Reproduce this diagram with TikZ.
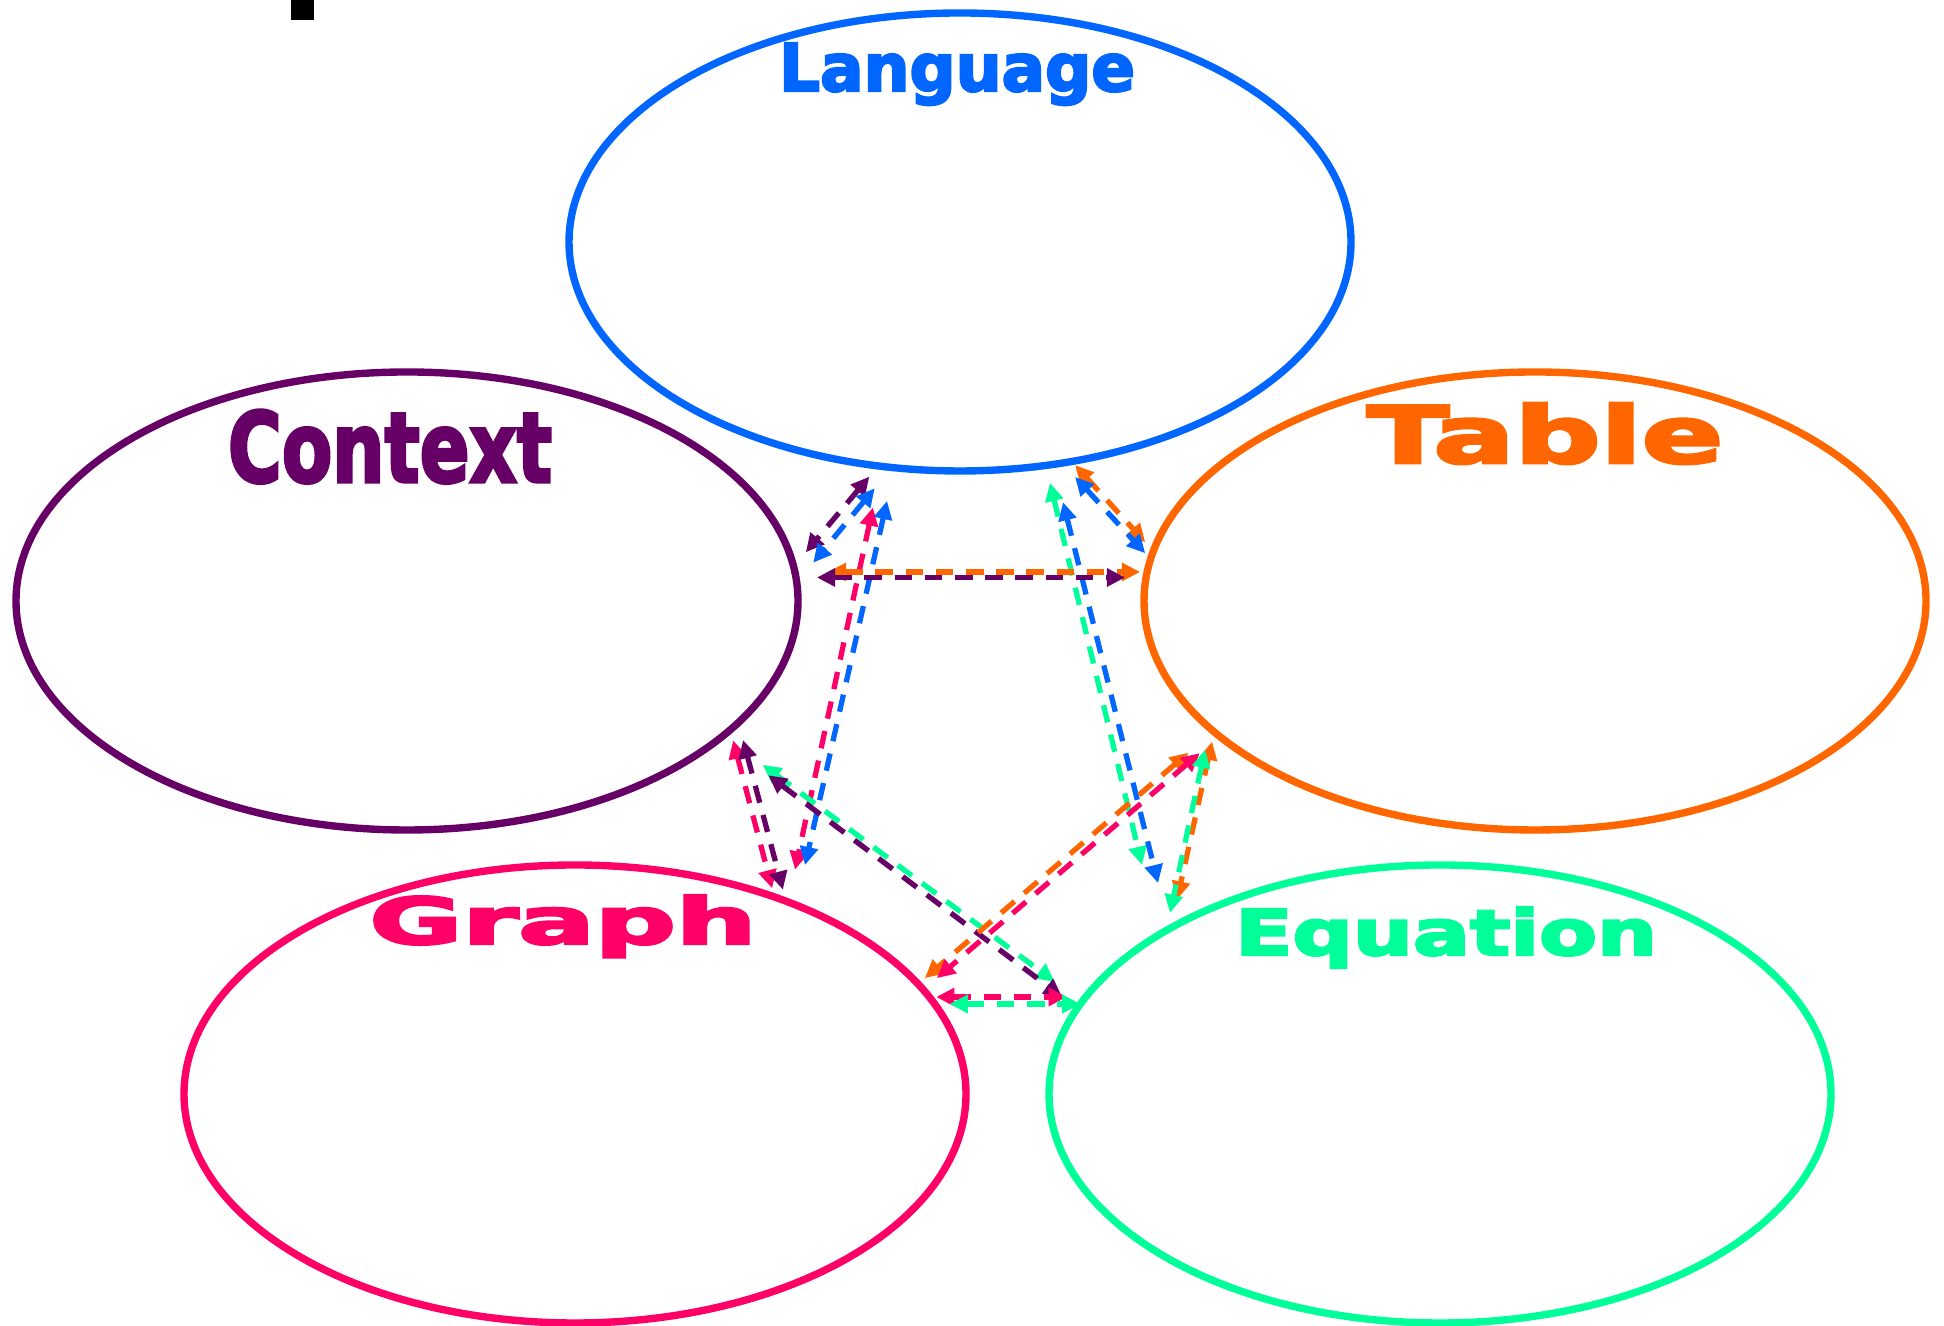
\documentclass[tikz,border=0pt]{standalone}
\usepackage{fontspec}
\usepackage{graphicx}
\newfontfamily\blobfont{DejaVu Sans}[BoldFeatures={FakeBold=3.5}]
\usetikzlibrary{arrows.meta, positioning, shapes.geometric}

\definecolor{langblue}{HTML}{0066FF}
\definecolor{ctxpurple}{HTML}{660066}
\definecolor{taborange}{HTML}{FF6600}
\definecolor{graphpink}{HTML}{FF0066}
\definecolor{eqngreen}{HTML}{00FF99}

% heavy title squeezed into a given width and height
\newcommand{\blobtitle}[3]{\resizebox{#1}{#2}{\blobfont\bfseries #3}}

\begin{document}
\begin{tikzpicture}[
  blob/.style={draw, ellipse, line width=2.1pt, inner sep=0pt, outer sep=0pt,
               minimum width=7.82cm, minimum height=4.58cm},
  heading/.style={inner sep=0pt, outer sep=0pt},
  link/.style={line width=1.5pt, dash pattern=on 5pt off 3.6pt,
               {Triangle[length=5.2pt,width=5pt]}-{Triangle[length=5.2pt,width=5pt]}}
]

\useasboundingbox (0,0) rectangle (19.44,13.26);

\fill (2.91,13.06) rectangle (3.14,13.26);

\node [blob, draw=langblue ] (lang)  at ( 9.60,10.84) {};
\node [blob, draw=ctxpurple] (ctx)   at ( 4.07, 7.25) {};
\node [blob, draw=taborange] (table) at (15.35, 7.25) {};
\node [blob, draw=graphpink] (graph) at ( 5.75, 2.32) {};
\node [blob, draw=eqngreen ] (eqn)   at (14.40, 2.32) {};

\node [heading, text=langblue , below=0.30cm of lang.north , xshift=-0.03cm] (langtxt)  {\blobtitle{3.56cm}{0.48cm}{Language}};
\node [heading, text=ctxpurple, below=0.38cm of ctx.north  , xshift=-0.17cm] (ctxtxt)   {\blobtitle{3.24cm}{0.72cm}{Context}};
\node [heading, text=taborange, below=0.31cm of table.north, xshift= 0.10cm] (tabletxt) {\blobtitle{3.56cm}{0.60cm}{Table}};
\node [heading, text=graphpink, below=0.30cm of graph.north, xshift=-0.12cm] (graphtxt) {\blobtitle{3.87cm}{0.49cm}{Graph}};
\node [heading, text=eqngreen , below=0.42cm of eqn.north  , xshift= 0.06cm] (eqntxt)   {\blobtitle{4.22cm}{0.48cm}{Equation}};

% language
\draw [link, ctxpurple, shorten <=0.14cm, shorten >=0.19cm] ([shift={(-0.817,-2.240)}]lang.center) -- ([shift={( 3.866, 0.342)}]ctx.center);
\draw [link, langblue , shorten <=0.27cm, shorten >=0.26cm] ([shift={(-0.681,-2.255)}]lang.center) -- ([shift={( 3.897, 0.183)}]ctx.center);
\draw [link, graphpink, shorten <=0.42cm, shorten >=0.33cm] ([shift={(-0.783,-2.244)}]lang.center) -- ([shift={( 2.131, 1.920)}]graph.center);
\draw [link, langblue , shorten <=0.34cm, shorten >=0.41cm] ([shift={(-0.655,-2.258)}]lang.center) -- ([shift={( 2.210, 1.889)}]graph.center);
\draw [link, taborange, shorten <=0.05cm, shorten >=0.12cm] ([shift={( 1.118,-2.195)}]lang.center) -- ([shift={(-3.817, 0.498)}]table.center);
\draw [link, langblue , shorten <=0.19cm, shorten >=0.08cm] ([shift={( 1.022,-2.210)}]lang.center) -- ([shift={(-3.844, 0.419)}]table.center);
\draw [link, eqngreen , shorten <=0.18cm, shorten >=0.72cm] ([shift={( 0.858,-2.234)}]lang.center) -- ([shift={(-2.812, 1.591)}]eqn.center);
\draw [link, langblue , shorten <=0.39cm, shorten >=0.47cm] ([shift={( 0.936,-2.223)}]lang.center) -- ([shift={(-2.706, 1.653)}]eqn.center);

% context
\draw [link, taborange, shorten <=0.33cm, shorten >=0.07cm] ([shift={( 3.879, 0.290)}]ctx.center) -- ([shift={(-3.879, 0.290)}]table.center);
\draw [link, ctxpurple, shorten <=0.21cm, shorten >=0.21cm] ([shift={( 3.889, 0.235)}]ctx.center) -- ([shift={(-3.889, 0.235)}]table.center);
\draw [link, graphpink, shorten <=0.11cm, shorten >=0.09cm] ([shift={( 3.233,-1.288)}]ctx.center) -- ([shift={( 1.994, 1.970)}]graph.center);
\draw [link, ctxpurple, shorten <=0.18cm, shorten >=0.12cm] ([shift={( 3.314,-1.216)}]ctx.center) -- ([shift={( 2.110, 1.928)}]graph.center);
\draw [link, eqngreen , shorten <=0.49cm, shorten >=0.34cm] ([shift={( 3.164,-1.346)}]ctx.center) -- ([shift={(-3.581, 0.920)}]eqn.center);
\draw [link, ctxpurple, shorten <=0.61cm, shorten >=0.19cm] ([shift={( 3.127,-1.375)}]ctx.center) -- ([shift={(-3.627, 0.855)}]eqn.center);

% table
\draw [link, taborange, shorten <=0.33cm, shorten >=0.09cm] ([shift={(-3.216,-1.303)}]table.center) -- ([shift={( 3.430, 1.100)}]graph.center);
\draw [link, graphpink, shorten <=0.26cm, shorten >=0.18cm] ([shift={(-3.155,-1.353)}]table.center) -- ([shift={( 3.482, 1.042)}]graph.center);
\draw [link, taborange, shorten <=0.10cm, shorten >=0.29cm] ([shift={(-3.208,-1.309)}]table.center) -- ([shift={(-2.692, 1.661)}]eqn.center);
\draw [link, eqngreen , shorten <=0.22cm, shorten >=0.18cm] ([shift={(-3.253,-1.271)}]table.center) -- ([shift={(-2.738, 1.635)}]eqn.center);

% graph
\draw [link, graphpink, shorten <=0.07cm, shorten >=0.19cm] ([shift={( 3.542, 0.970)}]graph.center) -- ([shift={(-3.542, 0.970)}]eqn.center);
\draw [link, eqngreen , shorten <=0.15cm                  ] ([shift={( 3.595, 0.900)}]graph.center) -- ([shift={(-3.595, 0.900)}]eqn.center);

\end{tikzpicture}
\end{document}
